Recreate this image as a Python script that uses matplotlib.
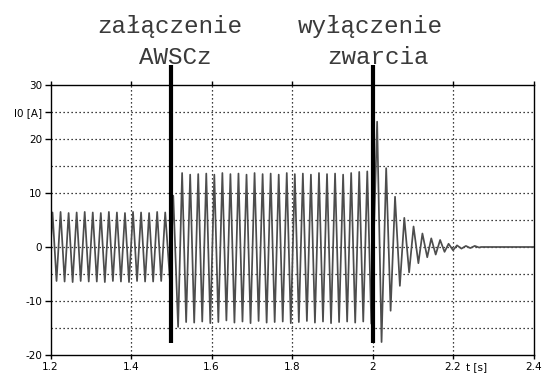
import matplotlib
matplotlib.use("Agg")
import matplotlib.pyplot as plt
from matplotlib.ticker import FixedLocator

# --- data (half-cycle peaks of the zero-sequence current) ---
t_before = [1.200, 1.205, 1.215, 1.225, 1.235, 1.245, 1.255, 1.265, 1.275, 1.285, 1.295,
            1.305, 1.315, 1.325, 1.335, 1.345, 1.355, 1.365, 1.375, 1.385, 1.395,
            1.405, 1.415, 1.425, 1.435, 1.445, 1.455, 1.465, 1.475, 1.485, 1.497]
i_before = [-0.5, 6.4, -6.3, 6.5, -6.4, 6.3, -6.5, 6.4, -6.3, 6.5, -6.4,
            6.4, -6.4, 6.3, -6.5, 6.5, -6.3, 6.4, -6.4, 6.3, -6.5,
            6.5, -6.3, 6.4, -6.4, 6.3, -6.4, 6.5, -6.3, 6.4, -6.5]

t_fault = [1.505, 1.517, 1.527, 1.537, 1.547, 1.557, 1.567, 1.577, 1.587, 1.597, 1.607,
           1.617, 1.627, 1.637, 1.647, 1.657, 1.667, 1.677, 1.687, 1.697, 1.707,
           1.717, 1.727, 1.737, 1.747, 1.757, 1.767, 1.777, 1.787, 1.797, 1.807,
           1.817, 1.827, 1.837, 1.847, 1.857, 1.867, 1.877, 1.887, 1.897, 1.907,
           1.917, 1.927, 1.937, 1.947, 1.957, 1.967, 1.977, 1.987, 1.997]
i_fault = [9.5, -14.8, 13.7, -13.9, 13.4, -14.0, 13.5, -13.8, 13.6, -14.1, 13.4,
           -13.9, 13.7, -13.6, 13.5, -14.0, 13.6, -13.8, 13.4, -14.1, 13.7,
           -13.7, 13.5, -14.0, 13.6, -13.9, 13.4, -13.8, 13.7, -14.1, 13.5,
           -13.9, 13.6, -13.7, 13.4, -14.0, 13.7, -13.8, 13.5, -14.1, 13.6,
           -13.9, 13.4, -13.8, 13.7, -14.0, 13.9, -13.8, 14.0, -14.2]

t_after = [2.0115, 2.0225, 2.034, 2.045, 2.056, 2.068, 2.079, 2.091, 2.102, 2.114,
           2.124, 2.136, 2.146, 2.157, 2.168, 2.179, 2.189, 2.200, 2.210, 2.221,
           2.232, 2.243, 2.254, 2.265, 2.270, 2.400]
i_after = [23.2, -17.6, 14.6, -11.8, 9.3, -7.2, 5.4, -4.7, 3.8, -3.0,
           2.5, -1.9, 1.6, -1.4, 1.3, -0.9, 0.6, -0.6, 0.3, -0.3,
           0.2, -0.2, 0.2, -0.1, 0.0, 0.0]

events_t = [1.5, 2.0]

x_ticks = [1.2, 1.4, 1.6, 1.8, 2.0, 2.2, 2.4]
x_ticklabels = ["1.2", "1.4", "1.6", "1.8", "2", "2.2", "2.4"]
y_ticks = [-20, -10, 0, 10, 20, 25, 30]
y_ticklabels = ["-20", "-10", "0", "10", "20", "I0 [A]", "30"]
y_grid = [-15, -10, -5, 0, 5, 10, 15, 20, 25]
x_grid = [1.4, 1.6, 1.8, 2.0, 2.2]

# --- figure ---
fig = plt.figure(figsize=(5.43, 3.76), dpi=100)
ax = fig.add_axes([50.5 / 543, 21 / 376, 483 / 543, 270 / 376])
ax.set_xlim(1.2, 2.4)
ax.set_ylim(-20, 30)

for g in y_grid:
    ax.axhline(g, color="black", lw=0.9, ls=(0, (1, 2.2)), zorder=1)
for g in x_grid:
    ax.axvline(g, color="black", lw=0.9, ls=(0, (1, 2.2)), zorder=1)

t_all = t_before + t_fault + t_after
i_all = i_before + i_fault + i_after
ax.plot(t_all, i_all, color="#4d4d4d", lw=1.25, zorder=2)

# event markers
for tx in events_t:
    ax.plot([tx, tx], [-17.7, 33.7], color="black", lw=3.0, solid_capstyle="butt",
            clip_on=False, zorder=4)

txt_kw = dict(family="Liberation Mono", fontsize=17.5, ha="center", va="baseline",
              color="#3a3a3a")
ax.text(1.4957, 39.6, "załączenie", **txt_kw)
ax.text(1.5093, 33.9, "AWSCz", **txt_kw)
ax.text(1.9938, 39.6, "wyłączenie", **txt_kw)
ax.text(2.0137, 33.9, "zwarcia", **txt_kw)

ax.set_xticks(x_ticks)
ax.set_xticklabels(x_ticklabels)
ax.set_yticks(y_ticks)
ax.set_yticklabels(y_ticklabels)
ax.yaxis.set_minor_locator(FixedLocator([-15, -5, 5, 15]))
ax.tick_params(axis="both", which="major", labelsize=7.5, length=4, width=1, color="black",
               pad=2)
ax.tick_params(axis="y", which="minor", length=0)
ax.tick_params(axis="x", top=True, direction="in", length=3)
ax.tick_params(axis="x", bottom=True, direction="out", length=3)

ax.text(2.258, -21.3, "t [s]", fontsize=7.5, ha="center", va="top")

for s in ax.spines.values():
    s.set_linewidth(1.0)
    s.set_color("black")

fig.savefig("out.png", dpi=100)
